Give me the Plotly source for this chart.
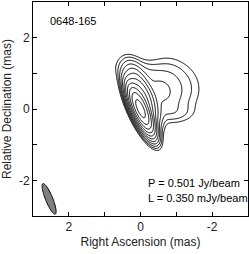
import numpy as np
import plotly.graph_objects as go

# --- data ---
source_name = "0648-165"
peak_jy = 0.501          # P, Jy/beam
lowest_mjy = 0.350       # L, mJy/beam
n_levels = 11            # contours at L * 2^k
# Gaussian model components: RA offset, Dec offset (mas), peak (Jy/beam), major/minor FWHM (mas), PA (deg)
comp_ra   = [0.00, -0.05, -0.55, -1.10,  0.00,  0.20, -0.90, -0.75]
comp_dec  = [0.00,  0.35,  0.45,  0.55,  1.00,  0.85, -0.10,  1.00]
comp_flux = [0.50,  0.05,  0.003, 0.0009, 0.0014, 0.0016, 0.0008, 0.0007]
comp_maj  = [0.78,  0.88,  0.80,  1.00,  0.90,  0.70,  0.80,  0.80]
comp_min  = [0.24,  0.34,  0.70,  0.90,  0.50,  0.40,  0.40,  0.70]
comp_pa   = [24.0,  24.0,  40.0,  0.0,   70.0,  10.0,  90.0,  60.0]
# restoring beam
beam_ra, beam_dec = 2.55, -2.52
beam_maj, beam_min, beam_pa = 0.92, 0.20, 22.0

xticks = [2, 0, -2]
yticks = [-2, 0, 2]

# --- image built from components ---
ra = np.linspace(3, -3, 301)
dec = np.linspace(-3, 3, 301)
RA, DEC = np.meshgrid(ra, dec)
img = np.zeros_like(RA)
for x0, y0, f, a, b, pa in zip(comp_ra, comp_dec, comp_flux, comp_maj, comp_min, comp_pa):
    t = np.deg2rad(pa)
    dx, dy = RA - x0, DEC - y0
    u = dx * np.sin(t) + dy * np.cos(t)   # along major axis
    v = dx * np.cos(t) - dy * np.sin(t)
    sa, sb = a / 2.3548, b / 2.3548
    img += f * np.exp(-0.5 * ((u / sa) ** 2 + (v / sb) ** 2))
img = img / img.max() * peak_jy
z = np.log2(np.clip(img * 1000 / lowest_mjy, 1e-6, None))

fig = go.Figure()
fig.add_trace(go.Contour(
    x=ra, y=dec, z=z,
    contours=dict(start=0, end=n_levels - 1, size=1, coloring="none"),
    line=dict(color="black", width=1),
    showscale=False, hoverinfo="skip",
))

# beam ellipse path
th = np.linspace(0, 2 * np.pi, 80)
t = np.deg2rad(beam_pa)
u = beam_maj / 2 * np.cos(th)
v = beam_min / 2 * np.sin(th)
bx = beam_ra + u * np.sin(t) + v * np.cos(t)
by = beam_dec + u * np.cos(t) - v * np.sin(t)
path = "M " + " L ".join(f"{a:.4f},{b:.4f}" for a, b in zip(bx, by)) + " Z"
fig.add_shape(type="path", path=path, xref="x", yref="y",
              fillcolor="#808080", line=dict(color="black", width=1))

font = "Liberation Sans, Arial, sans-serif"
fig.add_annotation(x=0.07, y=0.91, xref="paper", yref="paper", text=source_name,
                   showarrow=False, xanchor="left", yanchor="middle",
                   font=dict(family=font, size=11, color="black"))
fig.add_annotation(x=0.525, y=0.155, xref="paper", yref="paper",
                   text=f"P = {peak_jy:.3f} Jy/beam", showarrow=False,
                   xanchor="left", yanchor="middle", font=dict(family=font, size=11, color="black"))
fig.add_annotation(x=0.525, y=0.085, xref="paper", yref="paper",
                   text=f"L = {lowest_mjy:.3f} mJy/beam", showarrow=False,
                   xanchor="left", yanchor="middle", font=dict(family=font, size=11, color="black"))

axis_common = dict(showgrid=False, zeroline=False, showline=True, linecolor="black",
                   linewidth=1, mirror="ticks", ticks="inside", ticklen=4, tickcolor="black",
                   minor=dict(dtick=1, ticks="inside", ticklen=4, tickcolor="black"),
                   tickfont=dict(family=font, size=12, color="#222"))
fig.update_layout(
    width=249, height=254, margin=dict(l=33, r=1, t=2, b=38),
    paper_bgcolor="white", plot_bgcolor="white", showlegend=False,
    xaxis=dict(range=[3, -3], tickvals=xticks, ticktext=[str(v) for v in xticks],
               title=dict(text="Right Ascension (mas)", standoff=4,
                          font=dict(family=font, size=12, color="#222")), **axis_common),
    yaxis=dict(range=[-3, 3], tickvals=yticks, ticktext=[str(v) for v in yticks],
               title=dict(text="Relative Declination (mas)", standoff=4,
                          font=dict(family=font, size=12, color="#222")), **axis_common),
)
fig.write_html("out.html", config={"displayModeBar": False},
               post_script="document.body.style.margin='0';")
